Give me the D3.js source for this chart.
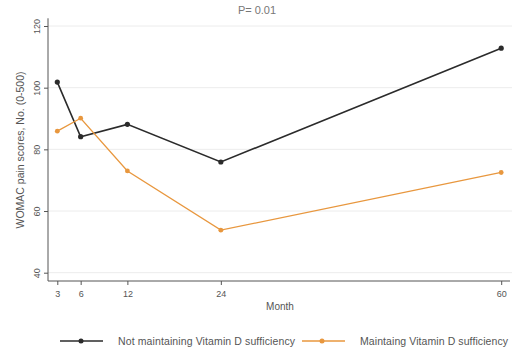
<!DOCTYPE html>
<html><head><meta charset="utf-8">
<script src="https://cdn.jsdelivr.net/npm/d3@7"></script>
<style>
html,body{margin:0;padding:0;background:#fff;}
svg{display:block;font-family:"Liberation Sans",Arial,sans-serif;}
</style></head>
<body><svg id="c" width="528" height="356"></svg>
<script>
const months = [3, 6, 12, 24, 60];
const notMaintaining = [101.8, 84.1, 88.1, 75.9, 112.8];
const maintaining = [85.9, 90.1, 73.0, 53.8, 72.5];
const yTicks = [40, 60, 80, 100, 120];
const seriesNames = ["Not maintaining Vitamin D sufficiency", "Maintaing Vitamin D sufficiency"];
const colors = ["#2b2b2b", "#e8973e"];

const svg = d3.select("#c");
const x = d3.scaleLinear().domain([3, 60]).range([57.3, 501.2]);
const y = d3.scaleLinear().domain([40, 120]).range([272.7, 26]);
const x0 = 48, yBase = 281;

// gridlines
svg.append("g").selectAll("line").data(yTicks).join("line")
  .attr("x1", x0).attr("x2", 512)
  .attr("y1", d => y(d)).attr("y2", d => y(d))
  .attr("stroke", "#ececec").attr("stroke-width", 1);

// y axis
const yAxis = svg.append("g").attr("transform", `translate(${x0},0)`)
  .call(d3.axisLeft(y).tickValues(yTicks).tickSize(4).tickPadding(4).tickFormat(d3.format("d")));
yAxis.select(".domain").attr("d", `M0,${y(122.5)}V${yBase}`).attr("stroke", "#555");
yAxis.selectAll(".tick line").attr("stroke", "#555");
yAxis.selectAll(".tick text")
  .attr("transform", "rotate(-90)")
  .attr("x", 0).attr("y", -8).attr("dy", 0)
  .attr("text-anchor", "middle")
  .attr("font-size", 9).attr("fill", "#555");

// x axis
const xAxis = svg.append("g").attr("transform", `translate(0,${yBase})`)
  .call(d3.axisBottom(x).tickValues(months).tickSize(4).tickPadding(6).tickFormat(d3.format("d")));
xAxis.select(".domain").attr("d", `M${x0},0H510`).attr("stroke", "#555");
xAxis.selectAll(".tick line").attr("stroke", "#555");
xAxis.selectAll(".tick text").attr("font-size", 9).attr("fill", "#555");

// axis titles
svg.append("text").attr("x", 280).attr("y", 310).attr("text-anchor", "middle")
  .attr("font-size", 10).attr("fill", "#555").text("Month");
svg.append("text").attr("transform", "translate(24,150) rotate(-90)").attr("text-anchor", "middle")
  .attr("font-size", 10.5).attr("fill", "#555").text("WOMAC pain scores, No. (0-500)");
svg.append("text").attr("x", 257).attr("y", 14).attr("text-anchor", "middle")
  .attr("font-size", 11).attr("fill", "#777").text("P= 0.01");

// series
const line = d3.line().x((d, i) => x(months[i])).y(d => y(d));
[notMaintaining, maintaining].forEach((s, k) => {
  svg.append("path").datum(s).attr("d", line).attr("fill", "none")
    .attr("stroke", colors[k]).attr("stroke-width", k === 0 ? 1.6 : 1.3);
  svg.append("g").selectAll("circle").data(s).join("circle")
    .attr("cx", (d, i) => x(months[i])).attr("cy", d => y(d))
    .attr("r", k === 0 ? 2.6 : 2.4).attr("fill", colors[k]);
});

// legend
const legend = [
  {lx1: 60, lx2: 103, cx: 81, tx: 118, w: 177},
  {lx1: 302, lx2: 345, cx: 322, tx: 360, w: 148}
];
const ly = 341;
legend.forEach((L, k) => {
  svg.append("line").attr("x1", L.lx1).attr("x2", L.lx2).attr("y1", ly).attr("y2", ly)
    .attr("stroke", colors[k]).attr("stroke-width", k === 0 ? 1.6 : 1.3);
  svg.append("circle").attr("cx", L.cx).attr("cy", ly).attr("r", 2.5).attr("fill", colors[k]);
  svg.append("text").attr("x", L.tx).attr("y", ly + 3.6).attr("font-size", 10.5)
    .attr("textLength", L.w).attr("lengthAdjust", "spacing")
    .attr("fill", "#555").text(seriesNames[k]);
});
</script></body></html>
